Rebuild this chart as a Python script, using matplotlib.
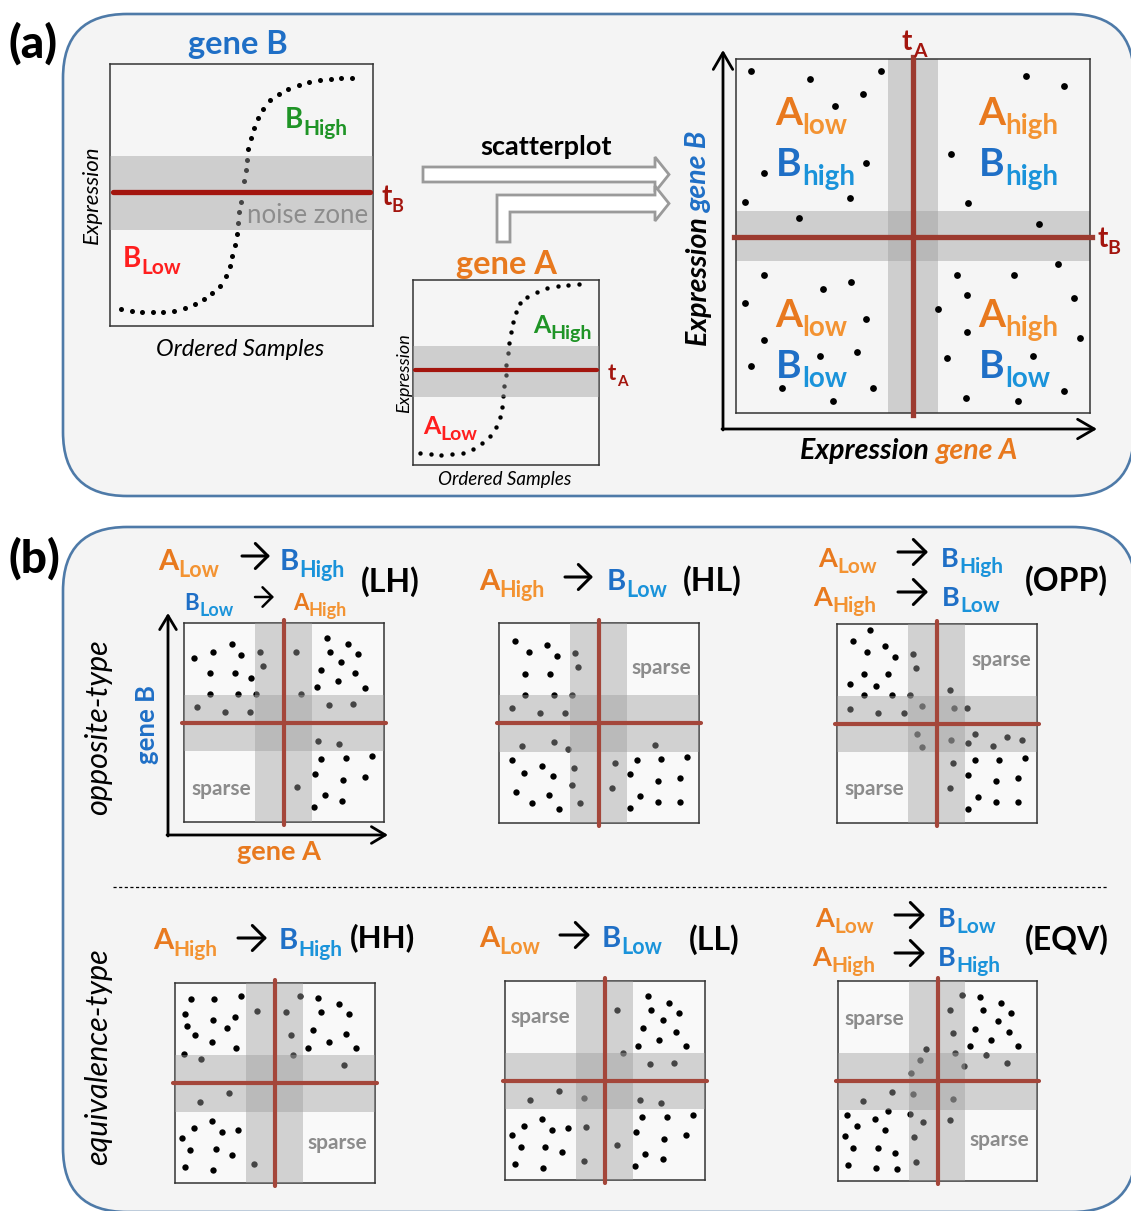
import numpy as np
import matplotlib.pyplot as plt
from matplotlib.patches import FancyBboxPatch, Polygon

plt.rcParams['font.family'] = ['Lato', 'DejaVu Sans']

W, H = 1131, 1211

# ---------------- data (percent of each plot box) ----------------
# ordered-sample expression curves
geneB_x = [4.2, 8.4, 12.2, 16.3, 20.2, 24.3, 28.5, 32.3, 35.7, 38.8, 41.8, 44.1, 45.6,
           46.4, 47.5, 48.3, 48.7, 49.0, 49.8, 50.2, 51.0, 51.7, 52.1, 52.5, 53.6, 54.8,
           56.3, 58.2, 60.8, 64.3, 67.7, 71.9, 75.7, 79.8, 84.0, 87.8, 92.0]
geneB_y = [6.5, 5.7, 5.3, 5.3, 5.3, 5.7, 6.9, 8.4, 10.3, 12.6, 15.3, 19.1, 22.9,
           26.7, 30.9, 35.1, 39.3, 43.5, 47.3, 51.1, 55.3, 59.5, 63.4, 67.6, 71.8, 75.6,
           79.4, 82.8, 86.3, 88.5, 90.5, 92.0, 93.1, 93.9, 94.3, 94.7, 94.7]
geneA_x = [3.8, 9.7, 15.1, 21.0, 26.9, 32.3, 37.1, 41.4, 44.6, 46.8, 47.8, 48.4, 48.9,
           50.0, 50.0, 51.1, 51.6, 52.7, 53.8, 55.4, 57.5, 61.3, 66.7, 72.0, 78.0, 83.3, 89.2]
geneA_y = [6.5, 5.9, 5.4, 5.9, 6.5, 8.6, 11.9, 15.7, 20.5, 25.9, 31.4, 37.3, 42.7,
           48.6, 54.1, 60.5, 65.9, 71.9, 77.3, 82.7, 87.6, 90.8, 93.5, 95.7, 96.8, 97.3, 97.8]

# scatterplot of gene A vs gene B (panel a)
scat_x = [4.1, 21.0, 40.9, 35.9, 28.0, 7.9, 36.6, 32.2, 2.6, 17.8, 82.0, 92.7, 60.7, 65.4,
          85.5, 7.8, 32.5, 24.5, 2.6, 36.6, 7.8, 4.2, 23.6, 34.3, 12.9, 38.6, 27.3, 91.1,
          62.5, 78.5, 65.3, 95.5, 57.0, 65.3, 97.2, 59.6, 84.0, 92.7, 65.1, 79.8]
scat_y = [96.6, 94.4, 96.6, 90.1, 86.6, 67.8, 70.6, 60.7, 59.5, 55.1, 95.3, 92.5, 73.2, 59.2,
          53.5, 38.9, 37.0, 34.9, 31.1, 26.6, 20.5, 13.4, 16.0, 17.3, 7.1, 7.2, 3.5, 42.2,
          39.1, 39.0, 33.3, 32.5, 29.3, 23.0, 21.1, 15.4, 16.0, 6.3, 4.1, 3.5]

# relationship types (panel b)
lh_x = [5.0, 14.7, 23.8, 28.7, 13.0, 25.5, 33.7, 38.0, 39.3, 56.0, 71.3, 82.0, 73.0, 87.2,
        78.7, 68.7, 85.7, 77.0, 66.3, 90.5, 13.0, 27.0, 36.0, 58.7, 6.7, 20.3, 33.0, 72.7,
        84.7, 67.2, 77.7, 68.3, 81.0, 93.8, 65.3, 79.3, 90.5, 56.3, 70.3, 79.0, 65.0]
lh_y = [82.6, 85.6, 89.3, 83.8, 74.9, 74.9, 72.4, 85.4, 78.2, 85.6, 92.5, 89.3, 85.6, 84.3,
        80.4, 76.5, 74.7, 70.7, 67.8, 67.5, 64.2, 64.2, 64.2, 64.2, 57.6, 55.1, 55.1, 59.0,
        59.3, 40.7, 39.0, 31.7, 32.0, 33.0, 24.3, 20.9, 22.6, 17.6, 13.4, 10.4, 7.4]
hl_x = [8.2, 14.9, 24.0, 29.0, 37.9, 39.6, 13.2, 25.7, 13.2, 27.4, 36.4, 6.7, 20.4, 33.2,
        11.5, 27.4, 34.7, 78.1, 6.7, 21.5, 37.4, 57.9, 68.9, 81.1, 94.0, 12.5, 27.0, 65.6,
        79.6, 90.7, 36.6, 56.4, 8.3, 25.0, 70.5, 16.4, 29.9, 40.6, 65.4, 79.3, 90.7]
hl_y = [91.0, 85.5, 88.8, 83.5, 85.0, 77.8, 74.7, 74.7, 64.0, 64.0, 64.0, 57.5, 55.0, 55.0,
        38.7, 40.3, 37.2, 39.0, 31.7, 28.3, 27.7, 30.2, 31.7, 32.0, 32.8, 24.8, 23.5, 24.3,
        21.0, 22.7, 19.2, 17.7, 15.7, 14.0, 13.3, 9.8, 6.8, 10.0, 7.3, 10.3, 10.3]
opp_x = [16.3, 8.0, 15.0, 24.0, 29.0, 38.0, 39.7, 13.3, 25.5, 6.7, 19.3, 13.3, 27.3, 36.3,
         56.5, 6.7, 20.5, 33.3, 42.5, 58.7, 64.8, 40.2, 42.3, 57.0, 65.7, 69.0, 78.0, 84.8,
         92.3, 57.8, 69.0, 81.2, 94.0, 65.7, 79.5, 90.5, 56.5, 70.5, 79.3, 90.5, 65.5]
opp_y = [96.8, 91.3, 85.8, 89.1, 83.6, 85.1, 78.1, 74.9, 74.9, 70.0, 68.7, 64.3, 64.3, 64.3,
         66.7, 57.5, 55.3, 55.3, 58.6, 57.6, 57.6, 44.6, 38.2, 41.9, 40.0, 44.7, 38.9, 43.2,
         41.9, 30.0, 31.7, 31.8, 32.8, 24.3, 20.9, 22.6, 17.6, 13.2, 10.4, 10.4, 7.2]
hh_x = [8.0, 19.3, 33.2, 5.0, 19.0, 30.0, 6.2, 25.8, 9.8, 18.7, 30.5, 4.5, 12.8, 41.0,
        55.7, 62.3, 71.5, 82.0, 73.0, 87.2, 68.8, 57.8, 85.7, 77.0, 66.5, 90.5, 58.8, 84.7,
        26.8, 12.7, 18.5, 9.5, 23.3, 31.3, 3.3, 7.7, 20.3, 28.5, 5.0, 18.8, 39.5]
hh_y = [92.0, 92.1, 93.3, 84.6, 81.3, 82.9, 78.3, 77.4, 73.9, 70.7, 67.6, 64.7, 62.2, 86.0,
        85.5, 93.3, 92.3, 89.3, 85.5, 84.3, 76.4, 74.1, 74.7, 70.6, 67.7, 67.4, 64.2, 59.2,
        44.8, 40.3, 30.9, 27.6, 25.6, 26.4, 22.7, 16.7, 17.1, 14.0, 8.0, 6.4, 9.7]
ll_x = [71.5, 82.0, 73.2, 87.2, 78.8, 55.8, 68.8, 85.7, 77.0, 66.5, 90.5, 58.8, 72.7, 84.7,
        26.8, 12.7, 39.7, 67.3, 77.8, 68.7, 81.2, 93.8, 18.5, 9.3, 23.5, 31.3, 40.3, 3.5,
        65.5, 79.5, 90.5, 7.8, 20.2, 28.5, 56.2, 70.2, 79.0, 5.2, 18.8, 39.5, 65.0]
ll_y = [92.3, 89.1, 85.4, 84.1, 80.2, 85.4, 76.4, 74.5, 70.4, 67.5, 67.2, 64.0, 58.5, 59.0,
        44.6, 40.0, 41.4, 40.4, 38.9, 31.5, 31.8, 32.8, 30.8, 27.3, 25.1, 26.3, 26.6, 22.6,
        24.3, 20.8, 22.4, 16.6, 16.6, 13.9, 17.4, 13.1, 10.4, 7.9, 6.0, 9.5, 7.0]
eqv_x = [62.4, 71.5, 82.1, 56.1, 73.1, 87.1, 80.5, 68.9, 57.8, 85.8, 77.0, 66.4, 90.7, 44.2,
         58.9, 74.3, 41.4, 63.1, 84.8, 36.6, 26.9, 12.7, 37.6, 57.8, 25.0, 4.3, 36.4, 18.5,
         42.7, 56.3, 9.5, 23.4, 3.3, 38.1, 7.7, 20.0, 28.5, 39.4, 5.0, 18.9, 29.7]
eqv_y = [93.0, 92.2, 88.8, 85.3, 85.3, 83.8, 80.0, 76.2, 73.8, 74.3, 70.3, 67.5, 67.3, 66.2,
         63.8, 62.8, 60.5, 57.5, 59.0, 54.0, 44.5, 40.0, 43.3, 41.0, 35.2, 33.0, 33.5, 30.8,
         29.5, 30.5, 27.5, 25.5, 22.7, 21.8, 16.7, 16.7, 14.0, 9.7, 8.0, 6.5, 6.2]

ORANGE, ORANGE_S = '#e8791e', '#f39332'
BLUE, BLUE_S = '#1f6fc6', '#1a93da'
GREEN = '#1f9426'
RED = '#ff1e1e'
DARKRED = '#a3150e'
LINE_RED = '#a4463a'
BAND = '#9e9e9e'

fig = plt.figure(figsize=(W / 100, H / 100), dpi=100)
fig.patch.set_facecolor('white')


def pix_axes(x0, y0, x1, y1, zorder=0):
    return fig.add_axes([x0 / W, 1 - y1 / H, (x1 - x0) / W, (y1 - y0) / H], zorder=zorder)


def box_axes(x0, y0, x1, y1, face):
    a = pix_axes(x0, y0, x1, y1, zorder=1)
    a.set_xlim(0, 100)
    a.set_ylim(0, 100)
    a.set_xticks([])
    a.set_yticks([])
    a.set_facecolor(face)
    for s in a.spines.values():
        s.set_color('#333333')
        s.set_linewidth(1.1)
    return a


# background panels
bg = pix_axes(0, 0, W, H)
bg.set_xlim(0, W)
bg.set_ylim(H, 0)
bg.axis('off')
for (x0, y0, x1, y1) in [(63, 14, 1134, 496), (63, 527, 1136, 1212)]:
    bg.add_patch(FancyBboxPatch((x0, y0), x1 - x0, y1 - y0,
                                boxstyle='round,pad=0,rounding_size=64',
                                fc='#f4f4f4', ec='#4e7aa8', lw=1.9))

# overlay for text and arrows
top = pix_axes(0, 0, W, H, zorder=5)
top.set_xlim(0, W)
top.set_ylim(H, 0)
top.axis('off')


def lab(x, y, main, sub, cm, cs, fs, sfs, drop=0.08):
    t = top.text(x, y, main, color=cm, fontsize=fs, fontweight='bold', ha='left', va='baseline')
    top.annotate(sub, xy=(1, 0), xycoords=t, xytext=(0.3, -drop * fs),
                 textcoords='offset points', color=cs, fontsize=sfs,
                 fontweight='bold', ha='left', va='baseline')


def arr(x0, x1, y, lw=2.2, hw=0.45, hl=0.45):
    top.annotate('', xy=(x1, y), xytext=(x0, y),
                 arrowprops=dict(arrowstyle=f'->,head_length={hl},head_width={hw}',
                                 lw=lw, color='black', shrinkA=0, shrinkB=0,
                                 mutation_scale=20))


def sigmoid(box, xs, ys, lo, hi, thr, s, lw):
    a = box_axes(*box, '#f5f5f5')
    a.scatter(xs, ys, s=s, c='black', lw=0, zorder=2)
    a.axhspan(lo, hi, color=BAND, alpha=0.44, lw=0, zorder=3)
    a.plot([1, 99], [thr, thr], color=DARKRED, lw=lw, solid_capstyle='round', zorder=4)
    return a


def quad(box, xs, ys, sparse_at, lo=35.5, hi=64.0, s=21):
    a = box_axes(*box, '#f9f9f9')
    a.scatter(xs, ys, s=s, c='black', lw=0, zorder=2)
    a.axvspan(lo, hi, color=BAND, alpha=0.44, lw=0, zorder=3)
    a.axhspan(lo, hi, color=BAND, alpha=0.44, lw=0, zorder=3)
    a.plot([50, 50], [-1.5, 101.5], color=LINE_RED, lw=3, clip_on=False, zorder=4,
           solid_capstyle='round')
    a.plot([-1, 101], [50, 50], color=LINE_RED, lw=3, clip_on=False, zorder=4,
           solid_capstyle='round')
    for u, v in sparse_at:
        a.text(u, v, 'sparse', ha='center', va='center', fontsize=15, fontweight='bold',
               color='#8c8c8c', zorder=5)
    return a


# ---------------- panel (a) ----------------
top.text(8, 58, '(a)', fontsize=33, fontweight='black', ha='left', va='baseline')

sigmoid((110, 64, 373, 326), geneB_x, geneB_y, 36.6, 64.9, 51.1, 13, 3.8)
top.text(238, 54, 'gene B', color=BLUE, fontsize=23.5, fontweight='bold', ha='center', va='baseline')
top.text(92, 195, 'Expression', rotation=90, style='italic', fontsize=16, ha='center', va='center')
top.text(240, 349, 'Ordered Samples', style='italic', fontsize=17, ha='center', va='center')
lab(285, 128, 'B', 'High', GREEN, GREEN, 20, 15)
lab(123, 267, 'B', 'Low', RED, RED, 20, 15)
lab(381, 205, 't', 'B', DARKRED, DARKRED, 20, 13)
top.text(247, 223, 'noise zone', color='#8c8c8c', fontsize=18.5, ha='left', va='baseline')

sigmoid((413, 280, 599, 465), geneA_x, geneA_y, 36.8, 64.3, 51.4, 10, 3.0)
top.text(506, 274, 'gene A', color=ORANGE, fontsize=23.5, fontweight='bold', ha='center', va='baseline')
top.text(404, 373, 'Expression', rotation=90, style='italic', fontsize=13, ha='center', va='center')
top.text(505, 479, 'Ordered Samples', style='italic', fontsize=13.5, ha='center', va='center')
lab(533, 333, 'A', 'High', GREEN, GREEN, 18, 14)
lab(423, 434, 'A', 'Low', RED, RED, 18, 14)
lab(608, 380, 't', 'A', DARKRED, DARKRED, 16, 11)

# block arrows
arrow1 = [(423, 167), (655, 167), (655, 157), (669, 174.5), (655, 192), (655, 182), (423, 182)]
arrow2 = [(497, 242), (497, 195), (655, 195), (655, 186), (669, 203.5), (655, 221),
          (655, 212), (510, 212), (510, 242)]
for pts in (arrow1, arrow2):
    top.add_patch(Polygon(pts, closed=True, fc='white', ec='#9a9a9a', lw=2))
top.text(546, 155, 'scatterplot', fontsize=19.5, fontweight='bold', ha='center', va='baseline')

# scatterplot
sa = box_axes(736, 59, 1090, 413, '#f5f5f5')
sa.axvspan(43, 57, color=BAND, alpha=0.44, lw=0, zorder=2)
sa.axhspan(43, 57, color=BAND, alpha=0.44, lw=0, zorder=2)
sa.plot([50, 50], [-0.5, 100.5], color='#9c3a2f', lw=3.8, clip_on=False, zorder=3)
sa.plot([-0.5, 100.5], [49.7, 49.7], color='#9c3a2f', lw=3.8, clip_on=False, zorder=3)
sa.scatter(scat_x, scat_y, s=24, c='black', lw=0, zorder=4)

top.annotate('', xy=(723, 50), xytext=(723, 430),
             arrowprops=dict(arrowstyle='->,head_length=0.6,head_width=0.35', lw=2,
                             color='black', shrinkA=0, shrinkB=0, mutation_scale=20))
top.annotate('', xy=(1097, 429), xytext=(722, 429),
             arrowprops=dict(arrowstyle='->,head_length=0.6,head_width=0.35', lw=2,
                             color='black', shrinkA=0, shrinkB=0, mutation_scale=20))
lab(902, 50, 't', 'A', DARKRED, DARKRED, 20, 14)
lab(1097, 247, 't', 'B', DARKRED, DARKRED, 20, 14)

ex = top.text(868, 451, 'Expression ', style='italic', fontweight='bold', fontsize=20.5,
              ha='center', va='center')
top.annotate('gene A', xy=(1, 0.5), xycoords=ex, color=ORANGE, style='italic', fontweight='bold',
             fontsize=20.5, ha='left', va='center')
ey = top.text(699, 279, 'Expression ', style='italic', fontweight='bold', fontsize=20.5,
              rotation=90, ha='center', va='center')
top.annotate('gene B', xy=(0.5, 1), xycoords=ey, color=BLUE, style='italic', fontweight='bold',
             fontsize=20.5, rotation=90, ha='center', va='bottom')

for x, y, a_sub, b_sub in [(775, 125, 'low', 'high'), (978, 125, 'high', 'high'),
                           (775, 327, 'low', 'low'), (978, 327, 'high', 'low')]:
    lab(x, y, 'A', a_sub, ORANGE, ORANGE_S, 28, 20)
    lab(x + 1, y + 51, 'B', b_sub, BLUE, BLUE_S, 28, 20)

# ---------------- panel (b) ----------------
top.text(8, 573, '(b)', fontsize=33, fontweight='black', ha='left', va='baseline')
top.text(98, 727, 'opposite-type', rotation=90, style='italic', fontsize=22, ha='center', va='center')
top.text(98, 1057, 'equivalence-type', rotation=90, style='italic', fontsize=22, ha='center', va='center')
top.plot([113, 1108], [887, 887], color='black', lw=0.9, ls=(0, (2.5, 2)))

quad((184, 623, 384, 822), lh_x, lh_y, [(18.5, 16.6)])
quad((499, 623, 699, 823), hl_x, hl_y, [(81, 77.5)])
quad((837, 624, 1037, 823), opp_x, opp_y, [(82, 82), (18.5, 17)])
quad((175, 983, 375, 1183), hh_x, hh_y, [(81, 20)])
quad((505, 981, 705, 1180), ll_x, ll_y, [(17.5, 82)])
quad((838, 981, 1037, 1181), eqv_x, eqv_y, [(18, 81), (81, 20.5)])

# LH axes
for xy, xyt in [((168, 613), (168, 836)), ((388, 835), (167, 835))]:
    top.annotate('', xy=xy, xytext=xyt,
                 arrowprops=dict(arrowstyle='->,head_length=0.5,head_width=0.3', lw=2,
                                 color='black', shrinkA=0, shrinkB=0, mutation_scale=20))
top.text(147, 724, 'gene B', rotation=90, color=BLUE, fontsize=18.5, fontweight='bold',
         ha='center', va='center')
top.text(279, 852, 'gene A', color=ORANGE, fontsize=19.5, fontweight='bold', ha='center', va='center')

# headings
lab(158, 570, 'A', 'Low', ORANGE, ORANGE_S, 21, 15.5)
arr(242, 270, 556)
lab(280, 570, 'B', 'High', BLUE, BLUE_S, 21, 15.5)
lab(184, 610, 'B', 'Low', BLUE, BLUE_S, 16, 13)
arr(255, 274, 597, lw=1.8, hw=0.35, hl=0.35)
lab(293, 610, 'A', 'High', ORANGE, ORANGE_S, 16, 13)
top.text(361, 582, '(LH)', fontsize=23, fontweight='bold', ha='left', va='center')

lab(479, 590, 'A', 'High', ORANGE, ORANGE_S, 21, 15.5)
arr(565, 593, 577)
lab(607, 590, 'B', 'Low', BLUE, BLUE_S, 21, 15.5)
top.text(683, 581, '(HL)', fontsize=23, fontweight='bold', ha='left', va='center')

lab(818, 567, 'A', 'Low', ORANGE, ORANGE_S, 19.5, 15)
arr(898, 928, 552)
lab(941, 567, 'B', 'High', BLUE, BLUE_S, 19.5, 15)
lab(813, 606, 'A', 'High', ORANGE, ORANGE_S, 19.5, 15)
arr(898, 928, 592)
lab(942, 606, 'B', 'Low', BLUE, BLUE_S, 19.5, 15)
top.text(1025, 581, '(OPP)', fontsize=23, fontweight='bold', ha='left', va='center')

lab(153, 949, 'A', 'High', ORANGE, ORANGE_S, 21, 15)
arr(238, 267, 938)
lab(279, 949, 'B', 'High', BLUE, BLUE_S, 21, 15)
top.text(350, 938, '(HH)', fontsize=22.5, fontweight='bold', ha='left', va='center')

lab(479, 947, 'A', 'Low', ORANGE, ORANGE_S, 21, 15.5)
arr(560, 590, 935)
lab(602, 947, 'B', 'Low', BLUE, BLUE_S, 21, 15.5)
top.text(689, 940, '(LL)', fontsize=23, fontweight='bold', ha='left', va='center')

lab(815, 927, 'A', 'Low', ORANGE, ORANGE_S, 19.5, 15)
arr(895, 925, 915)
lab(938, 927, 'B', 'Low', BLUE, BLUE_S, 19.5, 15)
lab(812, 966, 'A', 'High', ORANGE, ORANGE_S, 19.5, 15)
arr(895, 925, 953)
lab(938, 966, 'B', 'High', BLUE, BLUE_S, 19.5, 15)
top.text(1025, 940, '(EQV)', fontsize=23, fontweight='bold', ha='left', va='center')

fig.savefig('out.png', dpi=100, facecolor='white')
